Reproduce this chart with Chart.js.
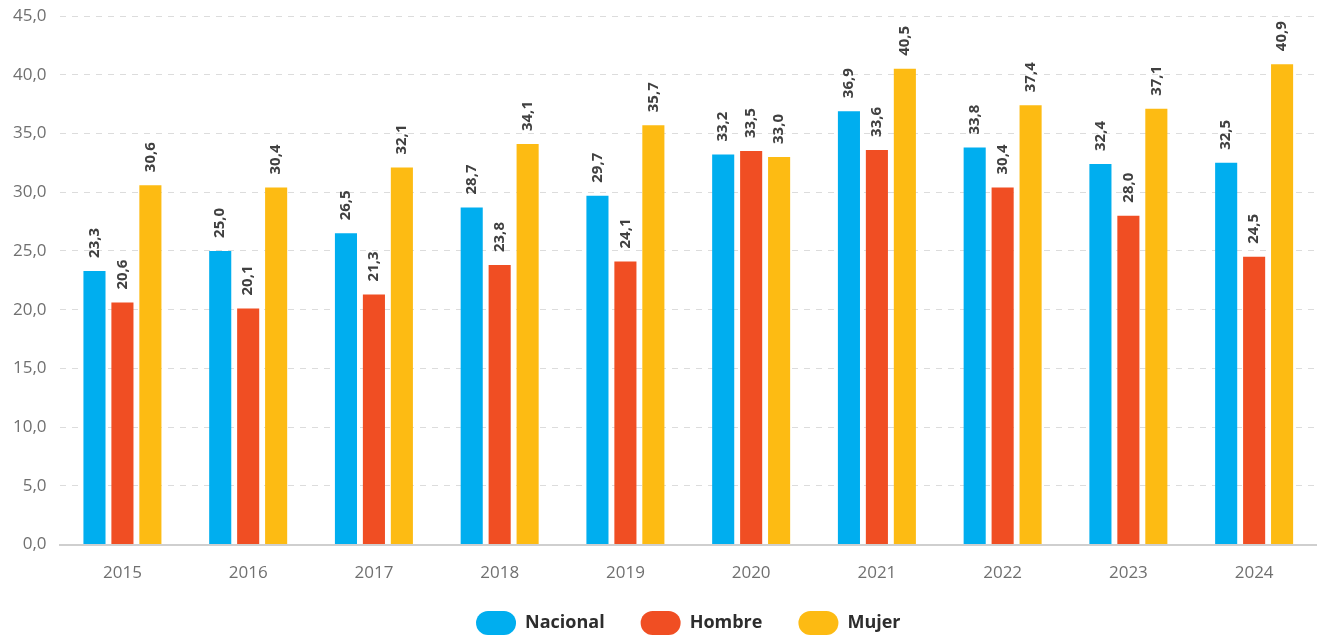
<!DOCTYPE html>
<html>
<head>
<meta charset="utf-8">
<script src="https://cdn.jsdelivr.net/npm/chart.js@4/dist/chart.umd.min.js"></script>
<style>
  html, body { margin: 0; padding: 0; background: #fff; }
  #wrap { width: 1317px; height: 636px; }
</style>
</head>
<body>
<div id="wrap"><canvas id="chart"></canvas></div>
<script>
const years = ['2015', '2016', '2017', '2018', '2019', '2020', '2021', '2022', '2023', '2024'];
const nacional = [23.3, 25.0, 26.5, 28.7, 29.7, 33.2, 36.9, 33.8, 32.4, 32.5];
const hombre = [20.6, 20.1, 21.3, 23.8, 24.1, 33.5, 33.6, 30.4, 28.0, 24.5];
const mujer = [30.6, 30.4, 32.1, 34.1, 35.7, 33.0, 40.5, 37.4, 37.1, 40.9];

const fmt = v => v.toFixed(1).replace('.', ',');

const LEGEND_PAD = 36;

// etiquetas verticales sobre cada barra
const barLabels = {
    id: 'barLabels',
    afterDatasetsDraw(chart) {
        const ctx = chart.ctx;
        ctx.save();
        ctx.font = 'bold 15px "Open Sans"';
        ctx.fillStyle = '#404040';
        ctx.textAlign = 'left';
        ctx.textBaseline = 'middle';
        chart.data.datasets.forEach((ds, i) => {
            const meta = chart.getDatasetMeta(i);
            if (meta.hidden) return;
            meta.data.forEach((bar, j) => {
                ctx.save();
                ctx.translate(bar.x, bar.y - 13);
                ctx.rotate(-Math.PI / 2);
                ctx.fillText(fmt(ds.data[j]), 0, 0);
                ctx.restore();
            });
        });
        ctx.restore();
    }
};

// leyenda centrada sobre el área del gráfico y pegada al borde inferior
const legendShift = {
    id: 'legendShift',
    afterLayout(chart) {
        const lg = chart.legend;
        if (!lg) return;
        lg.left += chart.chartArea.left;
        lg.top = chart.height - 25 - LEGEND_PAD;
    }
};

new Chart(document.getElementById('chart'), {
    type: 'bar',
    data: {
        labels: years,
        datasets: [
            { label: 'Nacional', data: nacional, backgroundColor: '#00AEEF' },
            { label: 'Hombre', data: hombre, backgroundColor: '#F04E23' },
            { label: 'Mujer', data: mujer, backgroundColor: '#FDBB13' }
        ]
    },
    options: {
        responsive: true,
        maintainAspectRatio: false,
        animation: false,
        categoryPercentage: 0.667,
        barPercentage: 0.79,
        layout: { padding: { top: 0, right: 0, left: 0, bottom: -27 } },
        plugins: {
            tooltip: { enabled: false },
            legend: {
                position: 'bottom',
                labels: {
                    font: { family: 'Open Sans', size: 18, weight: 'bold' },
                    color: '#2d2d2d',
                    boxWidth: 40,
                    boxHeight: 24,
                    useBorderRadius: true,
                    borderRadius: 12,
                    padding: LEGEND_PAD
                }
            }
        },
        scales: {
            x: {
                grid: { display: false },
                border: { display: true, color: '#cfcfcf', width: 2 },
                ticks: {
                    font: { family: 'Open Sans', size: 17 },
                    color: '#707070',
                    padding: 10
                }
            },
            y: {
                min: 0,
                max: 45,
                afterFit: s => { s.paddingTop = 16; },
                border: { display: false, dash: [6, 6] },
                grid: { color: '#dcdcdc', lineWidth: 1, drawTicks: false },
                ticks: {
                    stepSize: 5,
                    font: { family: 'Open Sans', size: 17 },
                    color: '#707070',
                    padding: 13,
                    callback: v => fmt(v)
                }
            }
        }
    },
    plugins: [barLabels, legendShift]
});
</script>
</body>
</html>
